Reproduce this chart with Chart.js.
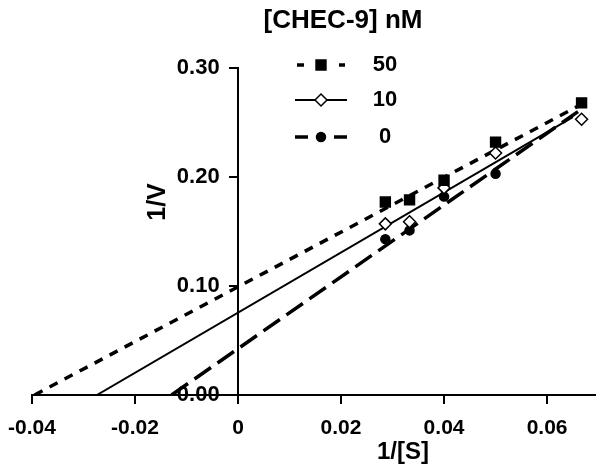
<!DOCTYPE html>
<html>
<head>
<meta charset="utf-8">
<script src="https://cdn.jsdelivr.net/npm/chart.js@4.4.1/dist/chart.umd.min.js"></script>
<style>
  html, body { margin: 0; padding: 0; background: #fff; }
</style>
</head>
<body>
<canvas id="chart" width="596" height="468"></canvas>
<script>
// [CHEC-9] nM concentrations (legend order)
const concLabels = ['50', '10', '0'];

// 1/[S] values of the measured points
const invS = [0.0286, 0.0333, 0.04, 0.05, 0.0667];

// 1/V values, one array per concentration
const invV50 = [0.177, 0.179, 0.197, 0.232, 0.268];
const invV10 = [0.157, 0.159, 0.190, 0.222, 0.253];
const invV0 = [0.143, 0.151, 0.182, 0.203, null];

// fitted lines: from x-intercept to last point
const fitX50 = [-0.0395, 0.066];
const fitY50 = [0, 0.265];
const fitX10 = [-0.0274, 0.065];
const fitY10 = [0, 0.255];
const fitX0 = [-0.0129, 0.066];
const fitY0 = [0, 0.26];

const xTicks = [-0.04, -0.02, 0, 0.02, 0.04, 0.06];
const yTicks = [0, 0.1, 0.2, 0.3];

const FONT = '"Liberation Sans", Arial, sans-serif';

const toPoints = (xs, ys) => xs.map((x, i) => ({x: x, y: ys[i]}));

const styles = [
  {pointStyle: 'rect', radius: 7, fill: '#000', dash: [9, 8], width: 3.5},
  {pointStyle: 'rectRot', radius: 6, fill: '#fff', dash: [], width: 2},
  {pointStyle: 'circle', radius: 4.5, fill: '#000', dash: [20, 8], width: 3.5},
];

const markerSets = [invV50, invV10, invV0];
const fitSets = [[fitX50, fitY50], [fitX10, fitY10], [fitX0, fitY0]];

const datasets = [];
markerSets.forEach((vals, i) => {
  const s = styles[i];
  datasets.push({
    label: concLabels[i],
    data: toPoints(invS, vals),
    showLine: false,
    pointStyle: s.pointStyle,
    pointRadius: s.radius,
    pointBackgroundColor: s.fill,
    pointBorderColor: '#000',
    pointBorderWidth: 1.5,
    order: 0,
  });
});
fitSets.forEach((f, i) => {
  const s = styles[i];
  datasets.push({
    label: concLabels[i] + ' fit',
    data: toPoints(f[0], f[1]),
    showLine: true,
    pointRadius: 0,
    borderColor: '#000',
    borderWidth: s.width,
    borderDash: s.dash,
    fill: false,
    order: 1,
  });
});

// titles and the custom legend
const annotate = {
  id: 'annotate',
  afterDraw: (chart) => {
    const {ctx} = chart;
    ctx.save();
    ctx.fillStyle = '#000';
    ctx.textAlign = 'center';
    ctx.textBaseline = 'middle';
    ctx.font = 'bold 26px ' + FONT;
    ctx.fillText('[CHEC-9] nM', 343, 21);
    ctx.font = 'bold 24px ' + FONT;
    ctx.fillText('1/[S]', 403, 452);
    ctx.save();
    ctx.translate(158, 202);
    ctx.rotate(-Math.PI / 2);
    ctx.font = 'bold 25px ' + FONT;
    ctx.fillText('1/V', 0, 0);
    ctx.restore();

    // legend rows
    const rowY = [65, 100, 137];
    concLabels.forEach((lab, i) => {
      const s = styles[i];
      const y = rowY[i];
      ctx.save();
      ctx.strokeStyle = '#000';
      ctx.lineWidth = s.width;
      if (i === 0) {
        ctx.setLineDash([7, 14]);
      } else if (i === 2) {
        ctx.setLineDash([13, 26]);
      }
      ctx.beginPath();
      ctx.moveTo(i === 0 ? 297 : 295, y);
      ctx.lineTo(i === 0 ? 345 : 347, y);
      ctx.stroke();
      ctx.restore();
      ctx.save();
      ctx.fillStyle = s.fill;
      ctx.strokeStyle = '#000';
      ctx.lineWidth = 1.5;
      Chart.helpers.drawPoint(ctx, {pointStyle: s.pointStyle, radius: s.radius, rotation: 0, borderWidth: 1.5}, 321, y);
      ctx.restore();
      ctx.font = 'bold 22px ' + FONT;
      ctx.fillText(lab, 385, y);
    });
    ctx.restore();
  }
};

// axes sit inside the plot, so drop the label overhang padding
const noOverhang = (scale) => {
  scale.paddingLeft = 0;
  scale.paddingRight = 0;
  scale.paddingTop = 0;
  scale.paddingBottom = 0;
};

new Chart(document.getElementById('chart'), {
  type: 'scatter',
  data: {datasets: datasets},
  options: {
    responsive: false,
    animation: false,
    layout: {autoPadding: false, padding: {left: 32, top: 68, right: 0, bottom: 73}},
    plugins: {
      legend: {display: false},
      tooltip: {enabled: false},
    },
    scales: {
      x: {
        type: 'linear',
        position: {y: 0},
        min: -0.04,
        max: 0.0695,
        afterBuildTicks: (scale) => { scale.ticks = xTicks.map(v => ({value: v})); },
        afterFit: noOverhang,
        ticks: {
          color: '#000',
          padding: 13,
          font: {family: FONT, size: 21, weight: 'bold'},
          callback: (v) => Math.abs(v) < 1e-9 ? '0' : v.toFixed(2),
        },
        grid: {drawOnChartArea: false, color: '#000', lineWidth: 2, tickLength: 8},
        border: {color: '#000', width: 2},
      },
      y: {
        type: 'linear',
        position: {x: 0},
        min: 0,
        max: 0.3,
        z: 1,
        afterBuildTicks: (scale) => { scale.ticks = yTicks.map(v => ({value: v})); },
        afterFit: noOverhang,
        ticks: {
          color: '#000',
          padding: 12,
          font: {family: FONT, size: 22, weight: 'bold'},
          // trailing spaces keep the labels clear of the centred axis line
          callback: (v) => v.toFixed(2) + '   ',
        },
        grid: {drawOnChartArea: false, color: '#000', lineWidth: 2, tickLength: 8},
        border: {color: '#000', width: 2},
      }
    }
  },
  plugins: [annotate]
});
</script>
</body>
</html>
